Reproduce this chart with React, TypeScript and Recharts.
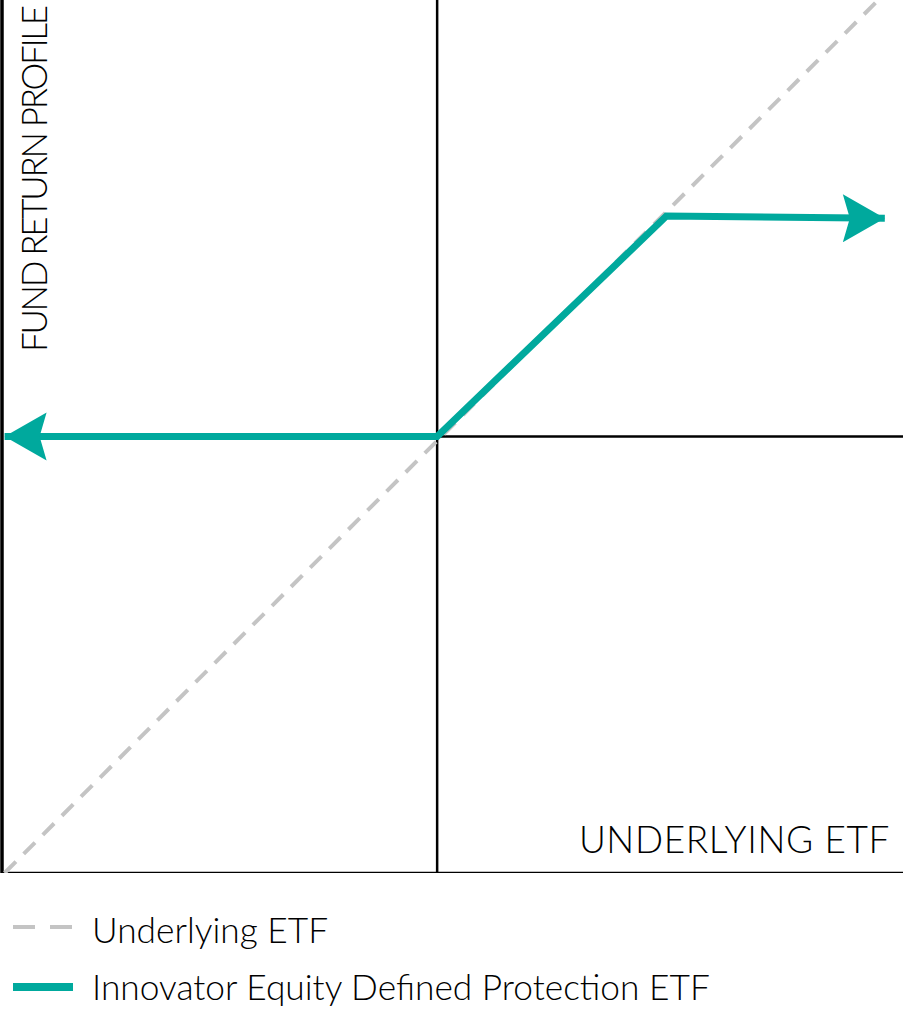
import { LineChart, Line, XAxis, YAxis, ReferenceLine } from "recharts";

// payoff profile: x = underlying ETF return, y = fund return (normalised)
const underlyingX = [-1, 1.02];
const underlyingY = [-1, 1.0];
const fundX = [-1, 0, 0.53, 1.035];
const fundY = [0, 0, 0.505, 0.5];

const seriesNames = ["Underlying ETF", "Innovator Equity Defined Protection ETF"];
const seriesColors = ["#c4c4c4", "#00a99d"];

const X_DOMAIN: [number, number] = [-1.006, 1.077];
const Y_DOMAIN: [number, number] = [-1, 1];

const underlyingData = underlyingX.map((x, i) => ({ x, y: underlyingY[i] }));
const fundData = fundX.map((x, i) => ({ x, y: fundY[i] }));

const FONT = "Lato, 'Open Sans', sans-serif";

// arrowheads on the two ends of the fund line
const ArrowDot = (props: any) => {
  const { cx, cy, index } = props;
  const last = fundData.length - 1;
  if (index !== 0 && index !== last) return <g key={`d${index}`} />;
  const dir = index === 0 ? -1 : 1;
  const len = 42;
  const half = 24;
  const notch = 35;
  const pts = [
    [cx, cy],
    [cx - dir * len, cy - half],
    [cx - dir * notch, cy],
    [cx - dir * len, cy + half],
  ]
    .map((p) => p.join(","))
    .join(" ");
  return <polygon key={`d${index}`} points={pts} fill={seriesColors[1]} />;
};

export default function App() {
  return (
    <div style={{ position: "absolute", left: 0, top: 0, width: 903, height: 1009, background: "#fff" }}>
      <LineChart width={903} height={873} margin={{ top: 0, right: 0, left: 2, bottom: 0 }}>
        <XAxis type="number" dataKey="x" domain={X_DOMAIN} allowDataOverflow hide />
        <YAxis type="number" dataKey="y" domain={Y_DOMAIN} allowDataOverflow hide />
        {/* outer axes */}
        <ReferenceLine y={Y_DOMAIN[0]} stroke="#000" strokeWidth={2.5} />
        <ReferenceLine x={X_DOMAIN[0]} stroke="#000" strokeWidth={3.5} />
        {/* origin cross */}
        <ReferenceLine x={0} stroke="#000" strokeWidth={2.5} />
        <ReferenceLine
          segment={[
            { x: 0, y: 0 },
            { x: X_DOMAIN[1], y: 0 },
          ]}
          stroke="#000"
          strokeWidth={2.5}
        />
        <Line
          data={underlyingData}
          dataKey="y"
          type="linear"
          stroke={seriesColors[0]}
          strokeWidth={4}
          strokeDasharray="16 11"
          dot={false}
          activeDot={false}
          isAnimationActive={false}
        />
        <Line
          data={fundData}
          dataKey="y"
          type="linear"
          stroke={seriesColors[1]}
          strokeWidth={7}
          strokeLinejoin="miter"
          dot={ArrowDot}
          activeDot={false}
          isAnimationActive={false}
        />
      </LineChart>

      <svg width={903} height={1009} style={{ position: "absolute", left: 0, top: 0, pointerEvents: "none" }}>
        <text
          x={890}
          y={853}
          textAnchor="end"
          fontFamily={FONT}
          fontWeight={300}
          fontSize={37}
          letterSpacing={0.6}
          fill="#000"
        >
          UNDERLYING ETF
        </text>
        <text
          transform="translate(47,352) rotate(-90)"
          fontFamily={FONT}
          fontWeight={300}
          fontSize={35}
          fill="#000"
          textLength={347}
        >
          FUND RETURN PROFILE
        </text>

        {/* legend */}
        <line x1={13} y1={927} x2={76} y2={927} stroke={seriesColors[0]} strokeWidth={4} strokeDasharray="22 15" />
        <text x={92} y={943} fontFamily={FONT} fontWeight={300} fontSize={35.3} fill="#000">
          {seriesNames[0]}
        </text>
        <line x1={13} y1={987} x2={73} y2={987} stroke={seriesColors[1]} strokeWidth={8} />
        <text x={92} y={1000} fontFamily={FONT} fontWeight={300} fontSize={35.3} fill="#000">
          {seriesNames[1]}
        </text>
      </svg>
    </div>
  );
}
